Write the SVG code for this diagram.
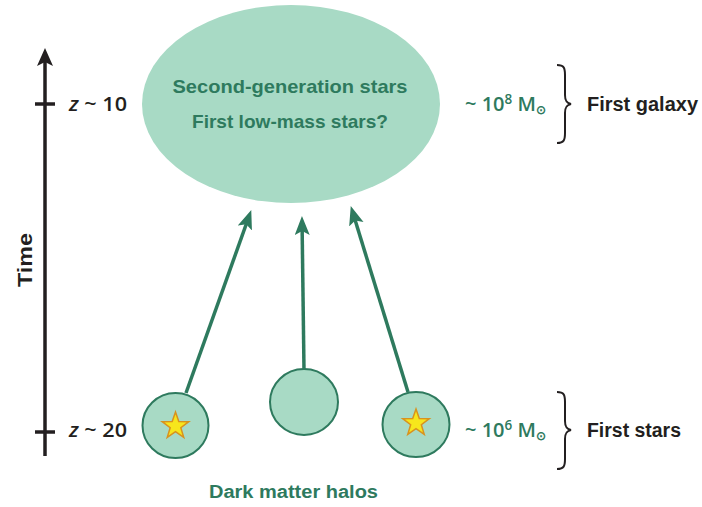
<svg xmlns="http://www.w3.org/2000/svg" width="702" height="507" viewBox="0 0 702 507">
<style>
.halo{fill:#a8dac5;stroke:#2e7a5e;stroke-width:2}
.arrow{fill:none;stroke:#2e7a5e;stroke-width:3.5}
.axis{fill:none;stroke:#231f20;stroke-width:3.5}
.brace{fill:none;stroke:#231f20;stroke-width:2}
.star{fill:#f7e61c;stroke:#d8921e;stroke-width:1.5;stroke-linejoin:miter}
.g{font-family:"Liberation Sans",Arial,sans-serif;font-weight:bold;fill:#2e7a5e}
.k{font-family:"Liberation Sans",Arial,sans-serif;font-weight:bold;fill:#231f20}
.m{font-family:"Open Sans","Liberation Sans",Arial,sans-serif;font-weight:600;fill:#2e7a5e}
.z{font-family:"Open Sans","Liberation Sans",Arial,sans-serif;font-weight:600;fill:#231f20}
</style>
<defs>
<marker id="ah" markerUnits="userSpaceOnUse" markerWidth="20" markerHeight="16" refX="9" refY="7.5" orient="auto" viewBox="0 0 20 16">
<path d="M0,0 L19,7.5 L0,15 L4,7.5 Z" fill="#2e7a5e"/>
</marker>
<marker id="ahk" markerUnits="userSpaceOnUse" markerWidth="20" markerHeight="18" refX="8" refY="8" orient="auto" viewBox="0 0 20 18">
<path d="M0,0 L18,8 L0,16 L4,8 Z" fill="#231f20"/>
</marker>
<polygon id="starShape" points="0,-14 3.29,-4.53 13.31,-4.33 5.33,1.73 8.23,11.33 0,5.6 -8.23,11.33 -5.33,1.73 -13.31,-4.33 -3.29,-4.53"/>
</defs>

<g id="time-axis">
<path class="axis" d="M45,456 L45,58" marker-end="url(#ahk)"/>
<line class="axis" x1="35" y1="104" x2="55" y2="104"/>
<line class="axis" x1="35" y1="432" x2="55" y2="432"/>
<text class="k" font-size="21" text-anchor="middle" transform="translate(32,260) rotate(-90)" textLength="54" lengthAdjust="spacingAndGlyphs">Time</text>
<text class="z" font-size="19" x="69" y="111" textLength="58" lengthAdjust="spacingAndGlyphs"><tspan font-style="italic">z</tspan> ~ 10</text>
<text class="z" font-size="19" x="69" y="437" textLength="58" lengthAdjust="spacingAndGlyphs"><tspan font-style="italic">z</tspan> ~ 20</text>
</g>

<g id="connectors">
<path class="arrow" d="M186,393 L247.9,219.5" marker-end="url(#ah)"/>
<path class="arrow" d="M304,370 L302.1,226" marker-end="url(#ah)"/>
<path class="arrow" d="M408,392 L353.7,215.6" marker-end="url(#ah)"/>
</g>

<g id="first-galaxy">
<ellipse cx="291" cy="104" rx="149" ry="99" fill="#a8dac5"/>
<text class="g" font-size="19" x="290" y="93" text-anchor="middle" textLength="235" lengthAdjust="spacingAndGlyphs">Second-generation stars</text>
<text class="g" font-size="19" x="290" y="128" text-anchor="middle" textLength="196" lengthAdjust="spacingAndGlyphs">First low-mass stars?</text>
</g>

<g id="halo-left">
<ellipse class="halo" cx="175.5" cy="425.5" rx="33" ry="32.5"/>
<use href="#starShape" class="star" x="175.5" y="426"/>
</g>
<g id="halo-middle">
<ellipse class="halo" cx="304" cy="402" rx="34" ry="33"/>
</g>
<g id="halo-right">
<ellipse class="halo" cx="416" cy="424.5" rx="33.5" ry="32.5"/>
<use href="#starShape" class="star" x="416" y="423"/>
</g>

<g id="label-galaxy">
<text class="m" font-size="20" x="465" y="111">~ 10<tspan font-size="13.5" dy="-7">8</tspan><tspan dy="7"> M</tspan><tspan font-size="11.5" dy="3">⊙</tspan></text>
<path class="brace" d="M557,65 C564,65 565,68 565,75 L565,95 C565,100 566,103 571,104 C566,105 565,108 565,113 L565,133 C565,140 564,143 557,143"/>
<text class="k" font-size="20" x="587" y="111" textLength="111" lengthAdjust="spacingAndGlyphs">First galaxy</text>
</g>

<g id="label-stars">
<text class="m" font-size="20" x="465" y="437">~ 10<tspan font-size="13.5" dy="-7">6</tspan><tspan dy="7"> M</tspan><tspan font-size="11.5" dy="3">⊙</tspan></text>
<path class="brace" d="M557,392 C564,392 565,395 565,402 L565,421 C565,426 566,429 571,430 C566,431 565,434 565,439 L565,459 C565,466 564,469 557,469"/>
<text class="k" font-size="20" x="587" y="437" textLength="94" lengthAdjust="spacingAndGlyphs">First stars</text>
</g>

<g id="label-halos">
<text class="g" font-size="18" x="293.5" y="498" text-anchor="middle" textLength="169" lengthAdjust="spacingAndGlyphs">Dark matter halos</text>
</g>
</svg>
